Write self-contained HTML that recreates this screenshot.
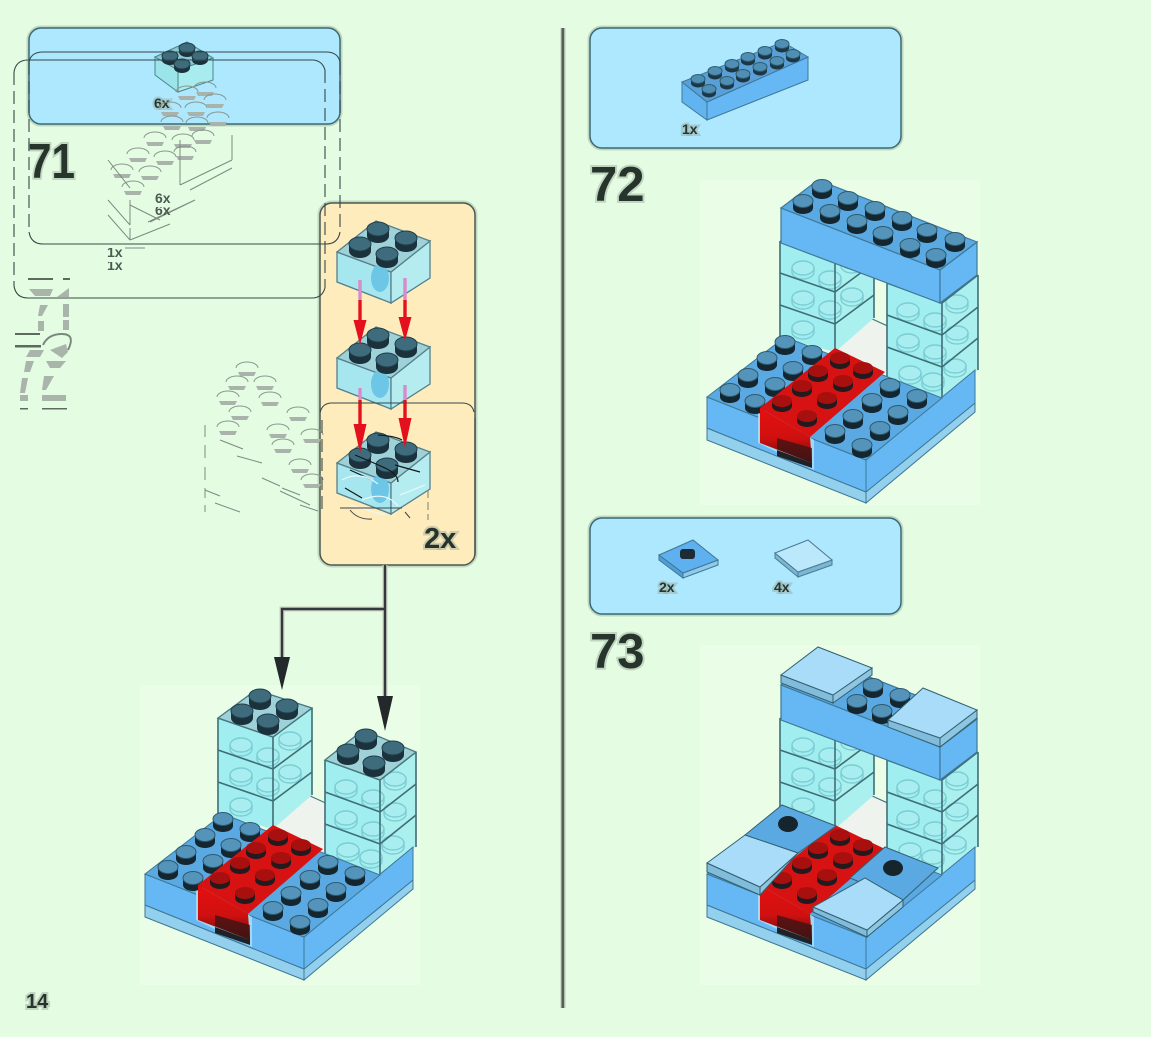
<!DOCTYPE html>
<html><head><meta charset="utf-8"><style>
html,body{margin:0;padding:0;background:#e4fde2;width:1151px;height:1037px;overflow:hidden}
svg{display:block}
text{font-family:"Liberation Sans",sans-serif;font-weight:bold;fill:#26342c}
.h{stroke:#97a697;stroke-opacity:.45;stroke-width:4px;paint-order:stroke}
.g{fill:none;stroke:#7d8a80;stroke-width:1}
</style></head><body>
<svg width="1151" height="1037" viewBox="0 0 1151 1037" xmlns="http://www.w3.org/2000/svg">
<defs>
<g id="sb"><path d="M-10,-3V4A10,6 0 0 0 10,4V-3Z" fill="#14262f"/><ellipse cy="-3" rx="10" ry="6.5" fill="#5594ba" stroke="#2d5a70"/></g>
<g id="sm"><path d="M-7,-2V2A7,4.5 0 0 0 7,2V-2Z" fill="#1d3644"/><ellipse cy="-2" rx="7" ry="4.5" fill="#4f8fb4" stroke="#2d5a70"/></g>
<g id="st"><path d="M-11,-3V4A11,7 0 0 0 11,4V-3Z" fill="#1b323c"/><ellipse cy="-3" rx="11" ry="7" fill="#3f6c7c" stroke="#1f3e4a"/></g>
<g id="sx"><path d="M-8,-2V2A8,5 0 0 0 8,2V-2Z" fill="#1b323c"/><ellipse cy="-2" rx="8" ry="5" fill="#3f6c7c" stroke="#1f3e4a"/></g>
<g id="sr"><ellipse cy="-2" rx="10" ry="6" fill="#a81010"/><path d="M-10,-2V3A10,6 0 0 0 10,3V-2A10,6 0 0 1 -10,-2Z" fill="#241a1e"/></g>
<g id="si"><ellipse rx="11" ry="7" fill="#a8eef0" stroke="#7cccd4" stroke-width="1.4"/><path d="M-11,0V4A11,7 0 0 0 11,4V0" fill="none" stroke="#7cccd4" stroke-width="1.4"/></g>
<g id="gs"><path d="M-11,0A11,6 0 0 1 11,0" fill="none" stroke="#8b968e"/><path d="M-9,4H9L7,8H-7Z" fill="#a9b2ab"/></g>

<g id="b2">
<polygon points="337,252 391,272 391,303 337,282" fill="#a6e6ee" stroke="#55808c" stroke-width="1.3"/>
<polygon points="391,272 430,241 430,278 391,303" fill="#b5ecf0" stroke="#55808c" stroke-width="1.3"/>
<polygon points="337,252 376,221 430,241 391,272" fill="#9ed2d8" stroke="#55808c" stroke-width="1.3"/>
<ellipse cx="380" cy="278" rx="9" ry="14" fill="#6ec6e6"/>
<use href="#st" x="378" y="232"/><use href="#st" x="360" y="247"/><use href="#st" x="406" y="241"/><use href="#st" x="387" y="257"/>
</g>

<g id="tl">
<polygon points="780,241 835,260 835,352 780,337" fill="#a0eef0"/>
<polygon points="835,260 874,231 874,318 835,352" fill="#aaf0ee"/>
<use href="#si" x="803" y="268"/><use href="#si" x="830" y="278"/><use href="#si" x="803" y="298"/><use href="#si" x="830" y="308"/><use href="#si" x="803" y="328"/><use href="#si" x="852" y="262"/><use href="#si" x="852" y="295"/>
<g fill="none" stroke="#3f6e76" stroke-width="1.6">
<path d="M780,241V337M835,260V352M874,231V318"/>
<path d="M780,241L835,260L874,231M780,273L835,292L874,263M780,305L835,324L874,295"/>
</g>
</g>
<g id="tr">
<polygon points="887,283 942,303 942,398 887,378" fill="#a0eef0"/>
<polygon points="942,303 978,275 978,370 942,398" fill="#aaf0ee"/>
<use href="#si" x="908" y="310"/><use href="#si" x="935" y="320"/><use href="#si" x="957" y="302"/><use href="#si" x="908" y="341"/><use href="#si" x="935" y="352"/><use href="#si" x="957" y="333"/><use href="#si" x="910" y="373"/><use href="#si" x="933" y="380"/><use href="#si" x="955" y="366"/>
<g fill="none" stroke="#3f6e76" stroke-width="1.6">
<path d="M887,283V378M942,303V398M978,275V370"/>
<path d="M887,283L942,303L978,275M887,315L942,335L978,307M887,347L942,367L978,338"/>
</g>
</g>

<g id="base">
<polygon points="840,330 870,318 892,328 892,380 840,352" fill="#eef3ee"/>
<path d="M835,340L870,318L892,328" fill="none" stroke="#47767e" stroke-width="1.2"/>
<use href="#tl"/><use href="#tr"/>
<polygon points="707,428 866,492 866,503 707,440" fill="#93d0ee" stroke="#3f7894"/>
<polygon points="866,492 975,403 975,412 866,503" fill="#93d0ee" stroke="#3f7894"/>
<polygon points="707,397 866,460 866,492 707,428" fill="#66b8f5" stroke="#3f7894"/>
<polygon points="866,460 975,370 975,403 866,492" fill="#66b8f5" stroke="#3f7894"/>
<polygon points="707,397 785,337 942,398 866,460" fill="#5aa9e2" stroke="#3f7894"/>
<polygon points="758,405 814,440 814,470 758,443" fill="#a4d8f0"/>
</g>
<linearGradient id="rf" x1="0" y1="0" x2="0" y2="1"><stop offset="0" stop-color="#e41010"/><stop offset=".55" stop-color="#d01010"/><stop offset="1" stop-color="#5c0c0c"/></linearGradient>
<g id="red">
<polygon points="835,348 885,372 810,437 760,408" fill="#d61212"/>
<polygon points="760,408 810,437 812,463 760,443" fill="url(#rf)"/>
<polygon points="777,449 812,463 812,448 777,438" fill="#3a1414" opacity=".75"/>
<polygon points="777,450 812,463 812,468 777,456" fill="#1e2226"/>
<use href="#sr" x="840" y="360"/><use href="#sr" x="818" y="373"/><use href="#sr" x="863" y="370"/><use href="#sr" x="843" y="383"/><use href="#sr" x="802" y="388"/><use href="#sr" x="827" y="400"/><use href="#sr" x="782" y="403"/><use href="#sr" x="807" y="418"/>
</g>
<g id="pst">
<use href="#sb" x="785" y="345"/><use href="#sb" x="812" y="355"/><use href="#sb" x="767" y="361"/><use href="#sb" x="793" y="371"/><use href="#sb" x="748" y="378"/><use href="#sb" x="775" y="387"/><use href="#sb" x="730" y="393"/><use href="#sb" x="755" y="404"/>
<use href="#sb" x="890" y="388"/><use href="#sb" x="917" y="399"/><use href="#sb" x="872" y="403"/><use href="#sb" x="898" y="415"/><use href="#sb" x="853" y="419"/><use href="#sb" x="880" y="431"/><use href="#sb" x="835" y="434"/><use href="#sb" x="862" y="448"/>
</g>
<g id="top">
<polygon points="781,208 940,270 940,303 781,243" fill="#66b8f5" stroke="#3f7894" stroke-width="1.2"/>
<polygon points="940,270 977,242 977,275 940,303" fill="#66b8f5" stroke="#3f7894" stroke-width="1.2"/>
<polygon points="781,208 818,180 977,242 940,270" fill="#5aa9e2" stroke="#3f7894" stroke-width="1.2"/>
</g>
<clipPath id="c6a"><rect x="150" y="190" width="30" height="13"/></clipPath>
<clipPath id="c6b"><rect x="150" y="207" width="30" height="10"/></clipPath>
<clipPath id="c1a"><rect x="100" y="248" width="30" height="9"/></clipPath>
<clipPath id="c1b"><rect x="100" y="262" width="30" height="12"/></clipPath>
</defs>

<rect width="1151" height="1037" fill="#e4fde2"/>

<!-- faint page panel for models -->
<rect x="140" y="685" width="280" height="300" fill="#e9fde7"/>
<rect x="700" y="180" width="280" height="325" fill="#e9fde7"/>
<rect x="700" y="645" width="280" height="340" fill="#e9fde7"/>

<!-- divider -->
<rect x="560.5" y="28" width="5" height="980" fill="#b9c6b7"/>
<rect x="561.5" y="28" width="2.6" height="980" fill="#55605a"/>

<!-- panels -->
<g fill="none" stroke="#9aa99c" stroke-opacity=".45" stroke-width="5">
<rect x="29" y="28" width="311" height="96" rx="12"/>
<rect x="320" y="203" width="155" height="362" rx="12"/>
<rect x="590" y="28" width="311" height="120" rx="12"/>
<rect x="590" y="518" width="311" height="96" rx="12"/>
</g>
<rect x="29" y="28" width="311" height="96" rx="12" fill="#ade8fe" stroke="#3a6a74" stroke-width="1.5"/>
<rect x="320" y="203" width="155" height="362" rx="12" fill="#ffecbc" stroke="#4a5a50" stroke-width="1.5"/>
<rect x="590" y="28" width="311" height="120" rx="12" fill="#ade8fe" stroke="#3a6a74" stroke-width="1.5"/>
<rect x="590" y="518" width="311" height="96" rx="12" fill="#ade8fe" stroke="#3a6a74" stroke-width="1.5"/>

<!-- small 2x2 in panel 71 -->
<polygon points="155,57 178,70 178,92 155,75" fill="#9be4ea" stroke="#4d8590"/>
<polygon points="178,70 213,58 213,80 178,92" fill="#a8ecf0" stroke="#4d8590"/>
<polygon points="155,57 187,42 213,58 178,70" fill="#88c9d2" stroke="#4d8590"/>
<use href="#sx" x="187" y="50"/><use href="#sx" x="170" y="58"/><use href="#sx" x="200" y="58"/><use href="#sx" x="182" y="66"/>
<text x="154" y="108" font-size="14" class="h">6x</text>

<!-- ghost studs under panel 71 -->
<use href="#gs" x="187" y="92"/><use href="#gs" x="205" y="88"/><use href="#gs" x="170" y="108"/><use href="#gs" x="196" y="108"/><use href="#gs" x="215" y="100"/>
<use href="#gs" x="172" y="122"/><use href="#gs" x="197" y="123"/><use href="#gs" x="218" y="118"/><use href="#gs" x="155" y="138"/><use href="#gs" x="183" y="140"/><use href="#gs" x="203" y="136"/>
<use href="#gs" x="138" y="154"/><use href="#gs" x="165" y="157"/><use href="#gs" x="185" y="152"/><use href="#gs" x="122" y="170"/><use href="#gs" x="150" y="172"/><use href="#gs" x="133" y="187"/>
<path class="g" d="M232,135V160M180,182V184M180,140V185M232,160L180,185M232,168L190,190M195,200L148,222M195,200L150,222M130,200V225M130,205L160,220M108,160L130,188M108,200L130,225M108,215L130,240M130,240L170,224M130,228V240M125,248H145"/>
<text x="155" y="203" font-size="14" clip-path="url(#c6a)" style="fill:#4d5a52">6x</text>
<text x="155" y="215" font-size="14" clip-path="url(#c6b)" style="fill:#4d5a52">6x</text>
<text x="107" y="257" font-size="14" clip-path="url(#c1a)" style="fill:#4d5a52">1x</text>
<text x="107" y="270" font-size="14" clip-path="url(#c1b)" style="fill:#4d5a52">1x</text>

<text x="28" y="178" font-size="49" class="h" textLength="47" lengthAdjust="spacingAndGlyphs">71</text>
<text x="590" y="201" font-size="49" class="h">72</text>
<text x="590" y="668" font-size="49" class="h">73</text>
<text x="26" y="1008" font-size="20" class="h">14</text>

<!-- ghost number fragments -->
<g fill="#a9b4aa">
<rect x="28" y="278" width="25" height="2" fill="#5c6a60"/><rect x="63" y="278" width="7" height="2" fill="#5c6a60"/>
<polygon points="29,289 53,289 50,296 35,296"/><polygon points="57,297 69,288 69,297"/>
<polygon points="40,305 48,305 42,316 38,316"/><rect x="63" y="304" width="6" height="13"/><rect x="38" y="321" width="6" height="10"/><rect x="63" y="320" width="6" height="10"/>
<rect x="15" y="333" width="25" height="2" fill="#5c6a60"/><path d="M43,345Q48,334 62,334T68,350" fill="none" stroke="#7b887e" stroke-width="2"/>
<rect x="15" y="345" width="26" height="2.5" fill="#5c6a60"/><polygon points="30,350 44,350 40,357 26,357"/><polygon points="50,350 66,344 68,352 62,358"/>
<polygon points="26,361 34,361 30,372 24,372"/><polygon points="46,361 66,361 60,368 50,368"/>
<polygon points="22,378 28,378 25,393 20,393"/><polygon points="44,376 54,376 46,390 42,390"/><rect x="42" y="395" width="24" height="6"/><rect x="20" y="395" width="8" height="6"/>
<rect x="20" y="408" width="8" height="1.5" fill="#5c6a60"/><rect x="42" y="408" width="25" height="1.5" fill="#5c6a60"/>
</g>

<!-- ghost studs left of orange panel -->
<use href="#gs" x="247" y="368"/><use href="#gs" x="237" y="382"/><use href="#gs" x="265" y="382"/><use href="#gs" x="228" y="397"/><use href="#gs" x="270" y="398"/><use href="#gs" x="240" y="412"/><use href="#gs" x="298" y="413"/><use href="#gs" x="228" y="427"/><use href="#gs" x="278" y="430"/><use href="#gs" x="312" y="435"/><use href="#gs" x="283" y="445"/><use href="#gs" x="300" y="465"/><use href="#gs" x="312" y="480"/>
<path class="g" d="M205,425V437M205,445V458M205,467V480M205,488V498M205,505V512M220,440L243,449M237,456L262,463M262,478L280,486M282,488L300,495M205,490L220,496M215,503L240,512M280,491L310,505M300,505L318,511"/>

<!-- orange panel bricks -->
<use href="#b2"/>
<use href="#b2" y="106"/>
<use href="#b2" y="211"/>

<!-- ghost over third brick -->
<g fill="none" stroke="#10181c" stroke-width="1.2">
<path d="M355,455Q372,462 385,468T398,482M378,435Q395,436 402,440M350,470L372,480M345,488L362,498M395,465L420,472"/>
</g>
<g fill="none" stroke="#e8fbff" stroke-width="1.1">
<path d="M342,480Q360,470 378,484M362,500Q385,490 398,506M350,505L385,515M400,495L425,485"/>
</g>
<g fill="none" stroke="#444">
<path d="M340,508H402M350,510Q358,520 372,519M405,512L410,518"/>
</g>

<!-- red arrows -->
<g>
<path d="M360,280V300M405,278V300M360,388V400M405,385V400" stroke="#d98ac8" stroke-width="3.4"/>
<path d="M360,300V325M405,300V320M360,400V425M405,400V420" stroke="#e5101e" stroke-width="3.4"/>
<polygon points="353.5,320 366.5,320 360,345" fill="#e5101e"/><polygon points="398.5,317 411.5,317 405,341" fill="#e5101e"/>
<polygon points="353.5,424 366.5,424 360,453" fill="#e5101e"/><polygon points="398.5,418 411.5,418 405,448" fill="#e5101e"/>
</g>

<!-- ghost panel outlines -->
<g fill="none" stroke="#33494a" stroke-width="1.1">
<path d="M43,52H326Q338,52 340,62"/><path d="M29,62Q31,52 43,52"/>
<path d="M29,232Q31,244 43,244H326Q338,244 340,232"/>
<path d="M29,62V232M340,62V232" stroke-dasharray="13 6"/>
<path d="M14,72Q16,60 28,60H312Q322,60 325,70"/>
<path d="M14,286Q16,298 28,298H312Q322,298 325,288"/>
<path d="M14,72V286M325,70V288" stroke-dasharray="13 6"/>
<path d="M320,413Q322,403 332,403H462Q472,403 474,412"/>
<path d="M475,418V555"/>
<path d="M322,420V510" stroke-dasharray="13 6"/>
<path d="M428,490V520" stroke-dasharray="8 4" stroke="#8a8a70"/>
</g>
<text x="424" y="548" font-size="29" class="h">2x</text>

<!-- black connector -->
<g fill="none">
<path d="M385,565V700M385,609H282V660" stroke="#c8cec4" stroke-width="5"/>
<path d="M385,565V700M385,609H282V660" stroke="#33393a" stroke-width="2.4"/>
</g>
<polygon points="274,657 290,657 282,690" fill="#23282a"/>
<polygon points="377,696 393,696 385,731" fill="#23282a"/>

<!-- step 71 model -->
<g transform="translate(-562,477)">
<use href="#base"/><use href="#pst"/><use href="#red"/>
<polygon points="780,241 818,213 874,231 835,260" fill="#9ed2d8" stroke="#47767e" stroke-width="1.3"/>
<polygon points="887,283 925,253 978,275 942,303" fill="#9ed2d8" stroke="#47767e" stroke-width="1.3"/>
<use href="#st" x="822" y="222"/><use href="#st" x="804" y="237"/><use href="#st" x="849" y="232"/><use href="#st" x="830" y="247"/>
<use href="#st" x="928" y="262"/><use href="#st" x="910" y="277"/><use href="#st" x="955" y="274"/><use href="#st" x="936" y="289"/>
</g>

<!-- panel 72 brick -->
<polygon points="682,82 707,102 707,120 682,102" fill="#62b4f0" stroke="#3f7894"/>
<polygon points="707,102 808,57 808,80 707,120" fill="#66b8f5" stroke="#3f7894"/>
<polygon points="682,82 783,42 808,57 707,102" fill="#5aa0d8" stroke="#3f7894"/>
<use href="#sm" x="698" y="81"/><use href="#sm" x="715" y="73"/><use href="#sm" x="732" y="66"/><use href="#sm" x="748" y="59"/><use href="#sm" x="765" y="53"/><use href="#sm" x="782" y="46"/><use href="#sm" x="709" y="91"/><use href="#sm" x="727" y="83"/><use href="#sm" x="743" y="76"/><use href="#sm" x="760" y="69"/><use href="#sm" x="777" y="63"/><use href="#sm" x="793" y="56"/>
<text x="682" y="134" font-size="14" class="h">1x</text>

<!-- step 72 model -->
<use href="#base"/><use href="#pst"/><use href="#red"/>
<use href="#top"/>
<use href="#sb" x="822" y="189"/><use href="#sb" x="803" y="204"/><use href="#sb" x="848" y="201"/><use href="#sb" x="830" y="214"/><use href="#sb" x="875" y="211"/><use href="#sb" x="857" y="224"/><use href="#sb" x="902" y="221"/><use href="#sb" x="883" y="236"/><use href="#sb" x="927" y="233"/><use href="#sb" x="910" y="248"/><use href="#sb" x="955" y="242"/><use href="#sb" x="936" y="258"/>

<!-- panel 73 parts -->
<polygon points="659,555 683,573 683,578 659,560" fill="#4f9fd8" stroke="#3f7894"/>
<polygon points="683,573 718,560 718,565 683,578" fill="#8fcaec" stroke="#3f7894"/>
<polygon points="659,555 693,540 718,560 683,573" fill="#5eb0ee" stroke="#3f7894"/>
<rect x="680" y="549" width="15" height="10" rx="3" fill="#1d2c34"/>
<text x="659" y="592" font-size="14" class="h">2x</text>
<polygon points="775,553 798,572 798,577 775,558" fill="#7cb6d4" stroke="#4a7c94"/>
<polygon points="798,572 832,560 832,565 798,577" fill="#7cb6d4" stroke="#4a7c94"/>
<polygon points="775,553 808,540 832,560 798,572" fill="#bbe8fb" stroke="#4a7c94"/>
<text x="774" y="592" font-size="14" class="h">4x</text>

<!-- step 73 model -->
<g transform="translate(0,477)">
<use href="#base"/>
<use href="#red"/>
<use href="#top"/>
</g>
<!-- top tiles -->
<use href="#sb" x="873" y="688"/><use href="#sb" x="857" y="704"/><use href="#sb" x="900" y="698"/><use href="#sb" x="882" y="714"/>
<polygon points="781,675 833,695 833,703 781,683" fill="#82bcdc" stroke="#33606e"/>
<polygon points="833,695 872,668 872,675 833,703" fill="#8ec6e2" stroke="#33606e"/>
<polygon points="781,675 818,647 872,668 833,695" fill="#a8dcf8" stroke="#33606e"/>
<polygon points="888,720 940,738 940,747 888,727" fill="#82bcdc" stroke="#33606e"/>
<polygon points="940,738 977,710 977,718 940,747" fill="#8ec6e2" stroke="#33606e"/>
<polygon points="888,720 923,688 977,710 940,738" fill="#a8dcf8" stroke="#33606e"/>
<!-- base tiles -->
<polygon points="745,835 782,805 836,826 798,853" fill="#5aa9e2" stroke="#33606e"/>
<polygon points="885,847 938,868 903,900 850,878" fill="#5aa9e2" stroke="#33606e"/>
<ellipse cx="788" cy="824" rx="10" ry="8" fill="#16242c"/>
<ellipse cx="893" cy="868" rx="10" ry="8" fill="#16242c"/>
<polygon points="707,863 760,887 760,895 707,872" fill="#82bcdc" stroke="#33606e"/>
<polygon points="760,887 798,853 760,895" fill="#8ec6e2" stroke="#33606e"/>
<polygon points="707,863 745,835 798,853 760,887" fill="#a8dcf8" stroke="#33606e"/>
<polygon points="813,907 867,930 867,937 813,912" fill="#82bcdc" stroke="#33606e"/>
<polygon points="867,930 903,900 903,907 867,937" fill="#8ec6e2" stroke="#33606e"/>
<polygon points="813,907 865,878 903,900 867,930" fill="#a8dcf8" stroke="#33606e"/>
</svg>
</body></html>
